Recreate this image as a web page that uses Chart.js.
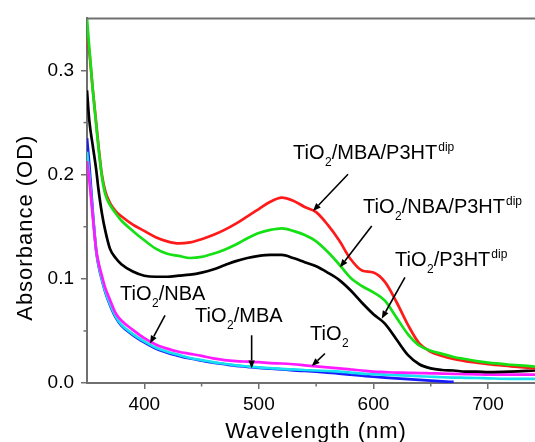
<!DOCTYPE html>
<html><head><meta charset="utf-8">
<script src="https://cdn.jsdelivr.net/npm/chart.js@4.4.0/dist/chart.umd.min.js"></script>
<style>html,body{margin:0;padding:0;background:#fff}canvas{display:block}</style>
</head><body>
<canvas id="c" width="535" height="442"></canvas>
<script>
// ---------- data ----------
const wavelengths = [350,352,355,358,360,363,366,370,375,380,
  390,400,410,420,430,440,450,460,470,480,490,500,510,520,530,540,550,560,570,580,590,600,610,620,630,640,650,660,670,680,690,700,
  720,741];
const tio2MbaP3ht = [0.333,0.318,0.282,0.250,0.228,0.200,0.184,0.173,0.165,0.160,
  0.152,0.146,0.140,0.136,0.134,0.135,0.138,0.142,0.147,0.153,0.160,0.167,0.174,0.178,0.175,0.169,0.164,0.152,0.137,0.119,0.108,0.106,0.097,0.078,0.056,0.038,0.030,0.026,0.023,0.021,0.0195,0.018,
  0.016,0.014];
const tio2NbaP3ht = [0.350,0.322,0.282,0.248,0.226,0.198,0.181,0.171,0.163,0.156,
  0.146,0.137,0.129,0.124,0.122,0.120,0.121,0.124,0.128,0.133,0.139,0.144,0.147,0.1485,0.146,0.142,0.136,0.126,0.114,0.101,0.093,0.087,0.079,0.063,0.047,0.036,0.031,0.028,0.025,0.023,0.021,0.0195,
  0.0175,0.0158];
const tio2P3ht = [0.281,0.252,0.228,0.205,0.186,0.163,0.146,0.129,0.120,0.114,
  0.107,0.103,0.102,0.102,0.103,0.104,0.106,0.109,0.113,0.117,0.120,0.122,0.123,0.123,0.120,0.116,0.112,0.106,0.099,0.089,0.077,0.066,0.057,0.042,0.027,0.018,0.014,0.0125,0.012,0.011,0.011,0.0105,
  0.011,0.012];
const tio2Nba = [0.213,0.195,0.160,0.128,0.116,0.103,0.091,0.080,0.067,0.060,
  0.051,0.043,0.037,0.033,0.030,0.028,0.026,0.0236,0.022,0.021,0.0205,0.020,0.019,0.0187,0.018,0.017,0.016,0.015,0.014,0.013,0.012,0.011,0.0105,0.010,0.0098,0.0095,0.0093,0.009,0.0088,0.0085,0.0083,0.008,
  0.008,0.008];
const tio2Mba = [0.235,0.210,0.165,0.127,0.113,0.099,0.087,0.075,0.063,0.055,
  0.046,0.039,0.033,0.029,0.026,0.0235,0.0215,0.0195,0.018,0.0165,0.0155,0.0145,0.0138,0.013,0.0122,0.0115,0.0108,0.010,0.009,0.008,0.007,0.006,0.0052,0.0045,0.0038,0.003,0.0022,0.0015,0.001,null,null,null,
  null,null];
const tio2 = [0.222,0.200,0.162,0.128,0.114,0.100,0.088,0.076,0.064,0.056,
  0.047,0.040,0.034,0.030,0.027,0.024,0.022,0.020,0.0185,0.017,0.016,0.015,0.0143,0.0135,0.013,0.0125,0.012,0.0115,0.011,0.010,0.009,0.0085,0.008,0.0075,0.007,0.0065,0.006,0.0055,0.0052,0.005,0.0048,0.0045,
  0.004,0.004];

const xTicks = [400,500,600,700];
const xMinorTicks = [450,550,650];
const yTicks = [0,0.1,0.2,0.3];
const yMinorTicks = [0.05,0.15,0.25];
const xTitle = 'Wavelength (nm)';
const yTitle = 'Absorbance (OD)';

// labels: [text, kind] kind 0 normal, -1 subscript, 1 superscript
const annotations = [
  {parts:[['TiO',0],['2',-1],['/MBA/P3HT',0],['dip',1]], at:[529.8,0.2147], from:[577.8,0.2004], to:[547.2,0.1651]},
  {parts:[['TiO',0],['2',-1],['/NBA/P3HT',0],['dip',1]], at:[590.9,0.1632], from:[598.5,0.1508], to:[570.8,0.111]},
  {parts:[['TiO',0],['2',-1],['/P3HT',0],['dip',1]], at:[618.8,0.1126], from:[627.5,0.1014], to:[607.2,0.0617]},
  {parts:[['TiO',0],['2',-1],['/NBA',0]], at:[378.8,0.0792], from:[418.1,0.0649], to:[405,0.0379]},
  {parts:[['TiO',0],['2',-1],['/MBA',0]], at:[444.3,0.0585], from:[493.7,0.0458], to:[493.7,0.014]},
  {parts:[['TiO',0],['2',-1]], at:[544.6,0.041], from:[557.7,0.0283], to:[546.1,0.0162]}
];

// ---------- chart ----------
const FONT = "'Liberation Sans', Arial, sans-serif";
const AXIS = '#707070';
Chart.defaults.font.family = FONT;

function pts(arr){ return wavelengths.map((w,i)=>({x:w, y:arr[i]})); }
function ds(label, arr, color, order){
  return {label, data:pts(arr), borderColor:color, backgroundColor:color, borderWidth:2.7,
    pointRadius:0, fill:false, cubicInterpolationMode:'monotone', order, spanGaps:false};
}

const extras = {
  id:'extras',
  afterDraw(chart){
    const {ctx, chartArea:ca, scales:{x,y}} = chart;
    ctx.save();
    // top frame
    ctx.strokeStyle = AXIS; ctx.lineWidth = 2;
    ctx.beginPath(); ctx.moveTo(ca.left, ca.top); ctx.lineTo(ca.right, ca.top); ctx.stroke();
    // minor ticks
    ctx.lineWidth = 1.5;
    xMinorTicks.forEach(v=>{ const px=x.getPixelForValue(v); ctx.beginPath(); ctx.moveTo(px, ca.bottom); ctx.lineTo(px, ca.bottom+3.5); ctx.stroke(); });
    yMinorTicks.forEach(v=>{ const py=y.getPixelForValue(v); ctx.beginPath(); ctx.moveTo(ca.left, py); ctx.lineTo(ca.left-3.5, py); ctx.stroke(); });
    // axis titles
    ctx.fillStyle = '#000';
    ctx.font = '22px ' + FONT;
    try { ctx.letterSpacing = '1px'; } catch(e){}
    ctx.textAlign = 'center'; ctx.textBaseline = 'alphabetic';
    ctx.fillText(xTitle, (ca.left+ca.right)/2 + 5, 438);
    ctx.save();
    ctx.translate(32, (ca.top+ca.bottom)/2 + 27);
    ctx.rotate(-Math.PI/2);
    ctx.fillText(yTitle, 0, 0);
    ctx.restore();
    try { ctx.letterSpacing = '0px'; } catch(e){}
    // annotations
    ctx.textAlign = 'left';
    annotations.forEach(a=>{
      let px = x.getPixelForValue(a.at[0]);
      const py = y.getPixelForValue(a.at[1]);
      a.parts.forEach(([t,k])=>{
        if (k===0){ ctx.font = '20px '+FONT; ctx.fillText(t, px, py); }
        else if (k===-1){ ctx.font = '12px '+FONT; ctx.fillText(t, px+0.5, py+7); }
        else { ctx.font = '12px '+FONT; ctx.fillText(t, px+1, py-8); }
        px += ctx.measureText(t).width + (k===-1 ? 0.5 : 0);
      });
      const x1=x.getPixelForValue(a.from[0]), y1=y.getPixelForValue(a.from[1]);
      const x2=x.getPixelForValue(a.to[0]), y2=y.getPixelForValue(a.to[1]);
      const ang=Math.atan2(y2-y1,x2-x1), hl=8, hw=3.2;
      const bx=x2-hl*Math.cos(ang), by=y2-hl*Math.sin(ang);
      ctx.strokeStyle='#000'; ctx.lineWidth=1.6;
      ctx.beginPath(); ctx.moveTo(x1,y1); ctx.lineTo(bx,by); ctx.stroke();
      ctx.beginPath(); ctx.moveTo(x2,y2);
      ctx.lineTo(bx+hw*Math.sin(ang), by-hw*Math.cos(ang));
      ctx.lineTo(bx-hw*Math.sin(ang), by+hw*Math.cos(ang));
      ctx.closePath(); ctx.fill();
    });
    ctx.restore();
  }
};

new Chart(document.getElementById('c'), {
  type:'line',
  data:{ datasets:[
    ds('TiO2/MBA/P3HT dip', tio2MbaP3ht, '#ff1a1a', 2),
    ds('TiO2/NBA/P3HT dip', tio2NbaP3ht, '#14e014', 1),
    ds('TiO2/P3HT dip', tio2P3ht, '#000000', 3),
    ds('TiO2/NBA', tio2Nba, '#ff1aff', 4),
    ds('TiO2/MBA', tio2Mba, '#1a1aff', 6),
    ds('TiO2', tio2, '#17e0f0', 5)
  ]},
  options:{
    responsive:false, animation:false,
    layout:{padding:{top:16, right:0, left:0, bottom:0}},
    plugins:{legend:{display:false}, tooltip:{enabled:false}},
    scales:{
      x:{type:'linear', min:350, max:741,
        afterBuildTicks:s=>{ s.ticks = xTicks.map(v=>({value:v})); },
        afterFit:s=>{ s.height = 59; },
        ticks:{color:'#000', font:{size:19}, padding:4, maxRotation:0, autoSkip:false, callback:v=>String(v)},
        grid:{drawOnChartArea:false, drawTicks:true, tickLength:6, color:AXIS, lineWidth:1.5},
        border:{display:true, color:AXIS, width:2}
      },
      y:{type:'linear', min:0, max:0.35,
        afterBuildTicks:s=>{ s.ticks = yTicks.map(v=>({value:v})); },
        afterFit:s=>{ s.width = 87; },
        ticks:{color:'#000', font:{size:19}, padding:7, callback:v=>Number(v).toFixed(1)},
        grid:{drawOnChartArea:false, drawTicks:true, tickLength:6, color:AXIS, lineWidth:1.5},
        border:{display:true, color:AXIS, width:2}
      }
    }
  },
  plugins:[extras]
});
</script>
</body></html>
